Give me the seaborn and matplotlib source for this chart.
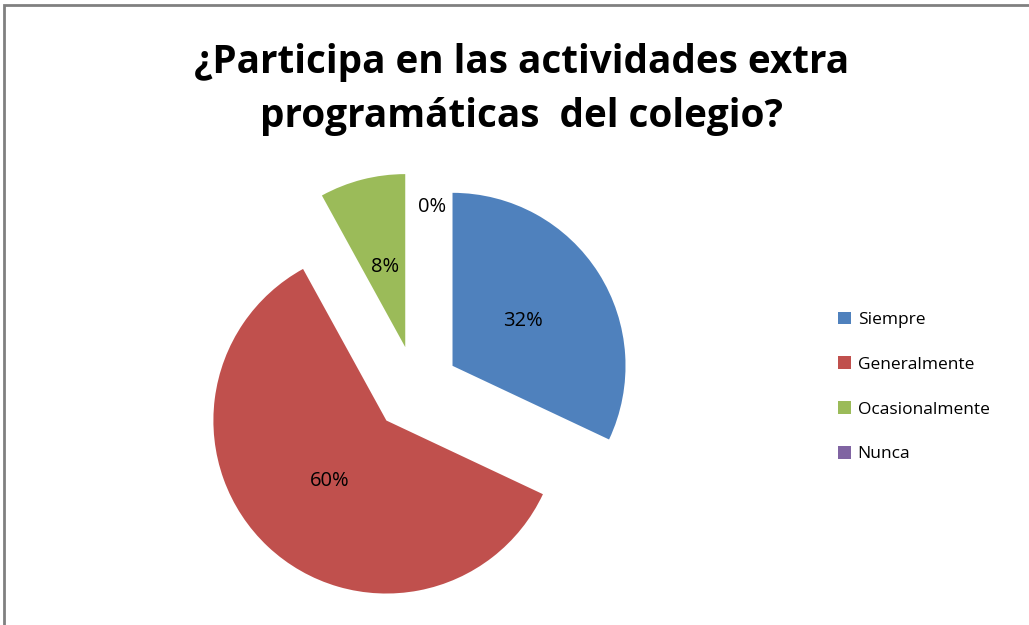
#!/usr/bin/env python3

import matplotlib.pyplot as plt     # drawing
import seaborn as sns               # theme and palette
from matplotlib.patches import Rectangle

# data
categories = ['Siempre', 'Generalmente', 'Ocasionalmente', 'Nunca']
values = [32, 60, 8, 0]
colors = ['#4F81BD', '#C0504D', '#9BBB59', '#8064A2']
title = '¿Participa en las actividades extra\nprogramáticas  del colegio?'

sns.set_theme(style='white')
sns.set_palette(sns.color_palette(colors))
plt.rcParams['font.family'] = ['Open Sans', 'DejaVu Sans']
plt.rcParams['text.color'] = 'black'

W, H = 1029, 625
fig = plt.figure(figsize=(W / 100, H / 100), dpi=100)

# pie axes: centre at (416, 389) px, radius 173 px, limits +-1.5
cx, cy, r, lim = 416, 389, 173, 1.5
half = r * lim
ax = fig.add_axes([(cx - half) / W, (H - cy - half) / H, 2 * half / W, 2 * half / H])

wedges, texts, autotexts = ax.pie(values,
                                  explode=[0.25] * 4,
                                  startangle=90,
                                  counterclock=False,
                                  autopct='%1.0f%%',
                                  pctdistance=0.48,
                                  textprops={'fontsize': 14.5, 'color': 'black'},
                                  wedgeprops={'linewidth': 0})
for w in wedges:
    w.set_clip_on(False)
# the empty slice label sits beside the gap at the top
autotexts[3].set_position((0.09, 1.05))
ax.set_xlim(-lim, lim)
ax.set_ylim(-lim, lim)
ax.set_aspect('equal')
ax.axis('off')

fig.text(0.507, 0.932, title, ha='center', va='top', fontsize=27.8,
         fontweight='bold', linespacing=1.5, color='black')

fig.legend(wedges, categories, loc='center left',
           bbox_to_anchor=(822 / W, 1 - 387 / H),
           frameon=False, fontsize=12.5,
           handlelength=0.75, handleheight=0.75, handletextpad=0.4,
           labelspacing=1.63)

# chart-area border (runs off the right and bottom edges)
fig.patches.append(Rectangle((4 / W, -0.1), 1.2, 0.1 + 1 - 5 / H,
                             transform=fig.transFigure, fill=False,
                             edgecolor='#808080', linewidth=2))

plt.savefig('out.png', dpi=100)
